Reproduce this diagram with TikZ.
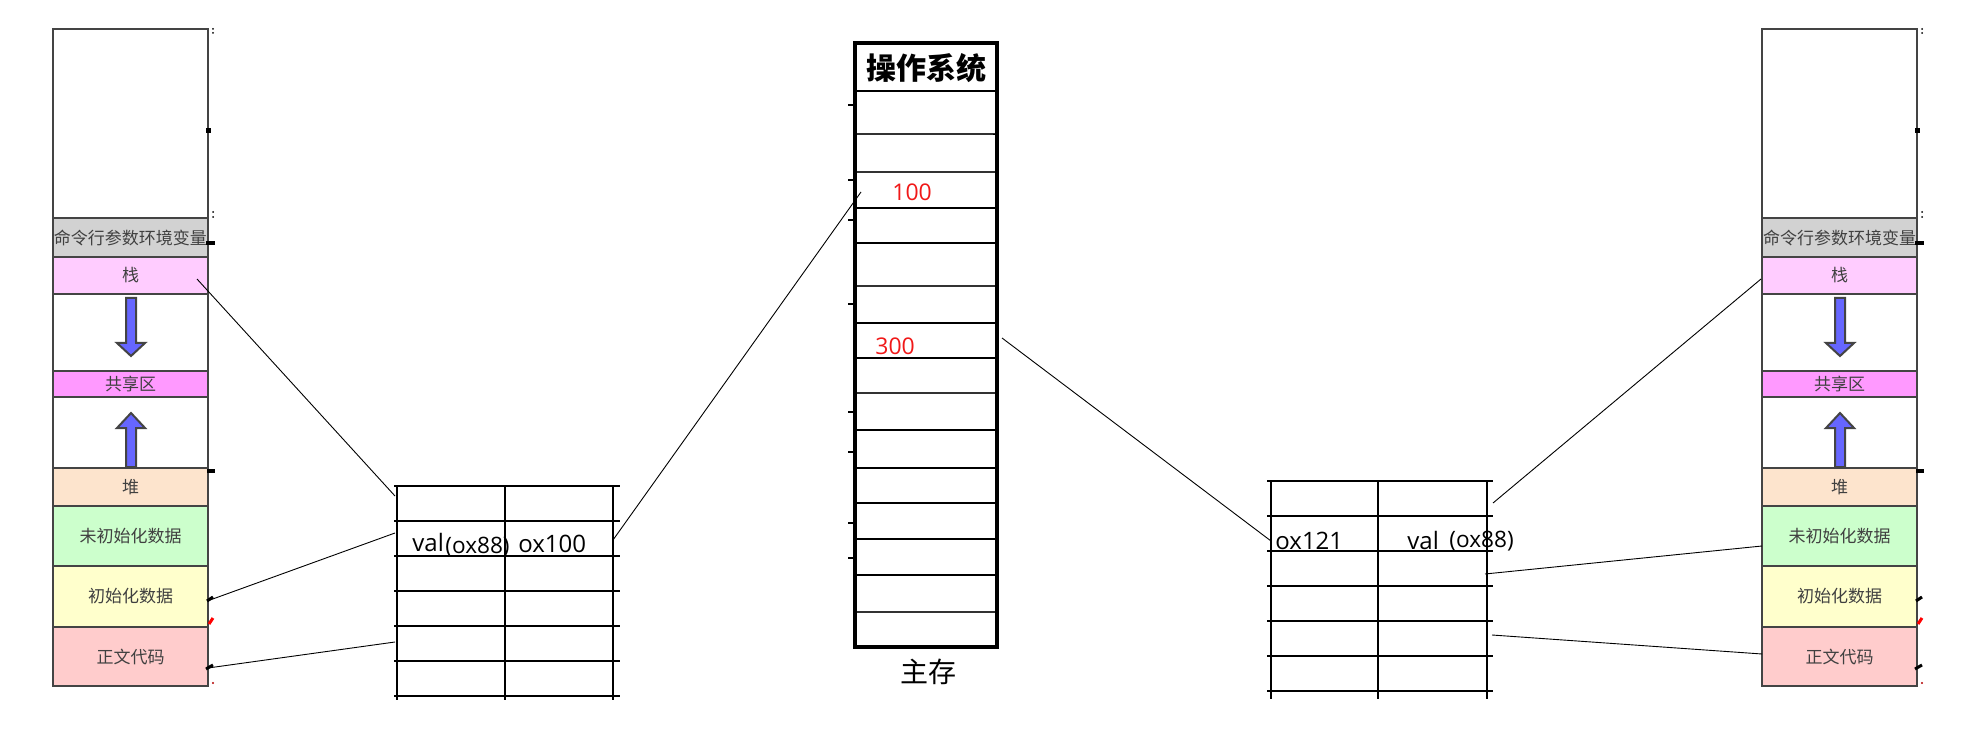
\documentclass[tikz,border=0pt]{standalone}
\usepackage{fontspec}
\setmainfont{Open Sans}
\newfontfamily\cjk{Noto Sans CJK SC}
\definecolor{bordc}{HTML}{444444}
\definecolor{txtc}{HTML}{404040}
\definecolor{cgray}{HTML}{D2D2D2}
\definecolor{cstack}{HTML}{FFCCFF}
\definecolor{cshare}{HTML}{FF99FF}
\definecolor{cheap}{HTML}{FDE4CD}
\definecolor{cgreen}{HTML}{CCFFCC}
\definecolor{cyellow}{HTML}{FFFFCC}
\definecolor{cred}{HTML}{FFCCCC}
\definecolor{arrowc}{HTML}{6666FF}
\definecolor{redc}{HTML}{F01818}
\tikzset{
 segline/.style={draw=bordc, line width=1.1pt},
 lbl/.style={font=\cjk\fontsize{8.5}{9}\selectfont, text=txtc, inner sep=0pt},
 growarrow/.style={fill=arrowc, draw=bordc, line width=1pt, line join=miter},
 gridline/.style={line width=0.6pt, black},
 conn/.style={line width=0.45pt, black},
 blob/.style={line width=1.5pt, black},
 memthin/.style={line width=0.8pt, black!80},
 memthick/.style={line width=1.3pt, black},
 tabtext/.style={font=\fontsize{12}{14}\selectfont, inner sep=0pt, anchor=base west},
 redtext/.style={font=\fontsize{11.5}{13}\selectfont, text=redc, inner sep=0pt, anchor=base west},
}
\newcommand\seg[5]{%
 \draw[segline, fill=#3] ({53+\dx},#1) rectangle ({208+\dx},#2);
 \node[lbl] (\s#4) at ({130.5+\dx},{(#1+#2)/2}) {#5};}
\begin{document}
\begin{tikzpicture}[x=0.5pt,y=-0.5pt]
\useasboundingbox (0,0) rectangle (1980,732);
% ---------- process address space columns ----------
\foreach \s/\dx in {l/0,r/1709}{
 \draw[segline, fill=white] ({53+\dx},29) rectangle ({208+\dx},218);
 \seg{218}{257}{cgray}{cmd}{命令行参数环境变量}
 \seg{257}{294}{cstack}{stack}{栈}
 \draw[segline, fill=white] ({53+\dx},294) rectangle ({208+\dx},371);
 \seg{371}{397}{cshare}{share}{共享区}
 \draw[segline, fill=white] ({53+\dx},397) rectangle ({208+\dx},468);
 \seg{468}{506}{cheap}{heap}{堆}
 \seg{506}{566}{cgreen}{bss}{未初始化数据}
 \seg{566}{627}{cyellow}{data}{初始化数据}
 \seg{627}{686}{cred}{text}{正文代码}
 \draw[segline] ({53+\dx},29) rectangle ({208+\dx},686);
 % growth arrows
 \draw[growarrow] ({126+\dx},298) -- ({136+\dx},298) -- ({136+\dx},343) -- ({145+\dx},343)
   -- ({131+\dx},356) -- ({117+\dx},343) -- ({126+\dx},343) -- cycle;
 \draw[growarrow] ({126+\dx},467) -- ({126+\dx},428) -- ({117+\dx},428) -- ({131+\dx},413)
   -- ({145+\dx},428) -- ({136+\dx},428) -- ({136+\dx},467) -- cycle;
 % small marks at the right edge
 \fill ({206+\dx},128) rectangle ({211+\dx},133);
 \fill ({206+\dx},241) rectangle ({215+\dx},245);
 \fill ({207+\dx},469) rectangle ({215+\dx},473);
 \draw[blob] ({207+\dx},601) -- ({213+\dx},597);
 \draw[blob, red] ({209+\dx},624) -- ({213+\dx},618);
 \draw[blob] ({206+\dx},669) -- ({213+\dx},665);
 \fill[red!70!black] ({213+\dx},683) circle (0.6pt);
 \fill ({213+\dx},29) circle (0.5pt);
 \fill ({213+\dx},33) circle (0.5pt);
 \fill ({213+\dx},212) circle (0.5pt);
 \fill ({213+\dx},217) circle (0.5pt);
}
% ---------- left table ----------
\foreach \xx in {397,505,613} \draw[gridline] (\xx,486) -- (\xx,700);
\foreach \yy in {486,521,556,591,626,661,696} \draw[gridline] (394,\yy) -- (620,\yy);
\node[tabtext] (lval) at (412,551) {val};
\node[tabtext, font=\fontsize{11.3}{13}\selectfont] (laddr) at (445,553) {(ox88)};
\node[tabtext] (lptr) at (518,552) {ox100};
% ---------- right table ----------
\foreach \xx in {1271,1378,1487} \draw[gridline] (\xx,481) -- (\xx,699);
\foreach \yy in {481,516,551,586,621,656,691} \draw[gridline] (1267,\yy) -- (1493,\yy);
\node[tabtext] (rptr) at (1275,549) {ox121};
\node[tabtext] (rval) at (1407,549) {val};
\node[tabtext, font=\fontsize{11.3}{13}\selectfont] (raddr) at (1449,547) {(ox88)};
% ---------- main memory ----------
\foreach \yy in {134,172,286,393,612} \draw[memthin] (855,\yy) -- (997,\yy);
\foreach \yy in {91,208,243,323,358,430,468,503,539,575} \draw[memthick] (855,\yy) -- (997,\yy);
\draw[black, line width=2pt] (855,43) rectangle (997,647);
\foreach \yy in {105,180,220,304,412,452,523,558} \draw[line width=0.6pt] (848,\yy) -- (853,\yy);
\draw[line width=0.5pt] (993,135) -- (997,135);
\node[font=\cjk\bfseries\fontsize{15}{16}\selectfont, inner sep=0pt] (os) at (926,68) {操作系统};
\node[font=\cjk\fontsize{14}{15}\selectfont, inner sep=0pt] (mainmem) at (928,672) {主存};
\node[redtext] (m100) at (892,201) {100};
\node[redtext] (m300) at (875,355) {300};
% ---------- connectors ----------
\coordinate (lstackend) at (197,279);
\coordinate (ltaba) at (395,496);
\coordinate (ltabb) at (395,533);
\coordinate (ldataend) at (210,600);
\coordinate (ltabc) at (395,642);
\coordinate (ltextend) at (208,668);
\coordinate (ltabd) at (613,540);
\coordinate (mem100) at (861,192);
\coordinate (mem300) at (1002,338);
\coordinate (rtaba) at (1271,541);
\coordinate (rtabb) at (1493,503);
\coordinate (rstackend) at (1761,279);
\coordinate (rtabc) at (1485,574);
\coordinate (rbssend) at (1762,546);
\coordinate (rtabd) at (1492,635);
\coordinate (rtextend) at (1762,654);
\draw[conn] (lstackend) -- (ltaba);
\draw[conn] (ltabb) -- (ldataend);
\draw[conn] (ltabc) -- (ltextend);
\draw[conn] (ltabd) -- (mem100);
\draw[conn] (mem300) -- (rtaba);
\draw[conn] (rtabb) -- (rstackend);
\draw[conn] (rtabc) -- (rbssend);
\draw[conn] (rtabd) -- (rtextend);
\end{tikzpicture}
\end{document}
